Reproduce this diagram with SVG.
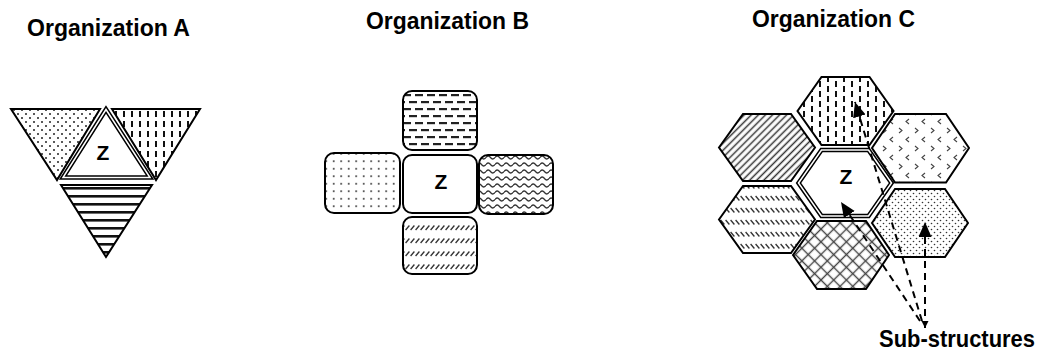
<svg xmlns="http://www.w3.org/2000/svg" width="1048" height="358" viewBox="0 0 1048 358">
<style>
.t{font-family:"Liberation Sans",Arial,sans-serif;font-weight:bold;font-size:24px;fill:#000}
.z{font-family:"Liberation Sans",Arial,sans-serif;font-weight:bold;font-size:21px;fill:#000;text-anchor:middle}
.s{stroke:#000;stroke-width:2;stroke-linejoin:miter}
.dbl{fill:#fff;stroke:#000;stroke-width:4.6;stroke-linejoin:miter}
.dblIn{fill:none;stroke:#fff;stroke-width:1.5;stroke-linejoin:miter}
.c{fill:none;stroke:#000;stroke-width:2;stroke-dasharray:7 5}
</style>
<defs>
<pattern id="pDots" width="8" height="8" patternUnits="userSpaceOnUse"><rect width="8" height="8" fill="#fff"/><circle cx="2" cy="2" r="1" fill="#222"/><circle cx="6" cy="6" r="1" fill="#222"/></pattern>
<pattern id="pVDash" width="8" height="10" patternUnits="userSpaceOnUse"><rect width="8" height="10" fill="#fff"/><rect x="3" y="1" width="2" height="6" fill="#111"/></pattern>
<pattern id="pVDash2" width="16" height="20" patternUnits="userSpaceOnUse"><rect width="16" height="20" fill="#fff"/><rect x="3" y="1" width="2" height="6" fill="#111"/><rect x="3" y="11" width="2" height="6" fill="#111"/><rect x="11" y="6" width="2" height="6" fill="#111"/><rect x="11" y="16" width="2" height="4" fill="#111"/><rect x="11" y="0" width="2" height="2" fill="#111"/></pattern>
<pattern id="pHStripe" width="8" height="8" patternUnits="userSpaceOnUse"><rect width="8" height="8" fill="#fff"/><rect y="3" width="8" height="2.6" fill="#111"/></pattern>
<pattern id="pHDash" width="12" height="14" patternUnits="userSpaceOnUse"><rect width="12" height="14" fill="#fff"/><rect x="1" y="3" width="8" height="2.2" fill="#222"/><rect x="7" y="10" width="8" height="2.2" fill="#222"/><rect x="-5" y="10" width="8" height="2.2" fill="#222"/></pattern>
<pattern id="pGrid" width="7.5" height="7.5" patternUnits="userSpaceOnUse"><rect width="7.5" height="7.5" fill="#fff"/><circle cx="3.7" cy="3.7" r="0.9" fill="#222"/></pattern>
<pattern id="pWave" width="9" height="7" patternUnits="userSpaceOnUse"><rect width="9" height="7" fill="#fff"/><path d="M0,3.5 Q2.25,0.5 4.5,3.5 T9,3.5" fill="none" stroke="#333" stroke-width="1.3"/></pattern>
<pattern id="pSlash" width="5" height="13" patternUnits="userSpaceOnUse"><rect width="5" height="13" fill="#fff"/><line x1="0.6" y1="9" x2="4.4" y2="4.5" stroke="#333" stroke-width="1.3"/></pattern>
<pattern id="pDiag" width="5" height="5" patternUnits="userSpaceOnUse" patternTransform="rotate(45)"><rect width="5" height="5" fill="#fff"/><line x1="2.5" y1="0" x2="2.5" y2="5" stroke="#333" stroke-width="1.5"/></pattern>
<pattern id="pBack" width="5" height="12" patternUnits="userSpaceOnUse"><rect width="5" height="12" fill="#fff"/><line x1="0.6" y1="4" x2="4.4" y2="8.5" stroke="#333" stroke-width="1.3"/></pattern>
<pattern id="pChev" width="16" height="18" patternUnits="userSpaceOnUse"><rect width="16" height="18" fill="#fff"/><path d="M3,2 L6,4.5 L3,7 M13,11 L10,13.5 L13,16" fill="none" stroke="#444" stroke-width="1.1"/></pattern>
<pattern id="pFine" width="6" height="6" patternUnits="userSpaceOnUse"><rect width="6" height="6" fill="#fff"/><circle cx="1.5" cy="1.5" r="0.8" fill="#333"/><circle cx="4.5" cy="4.5" r="0.8" fill="#333"/></pattern>
<pattern id="pCross" width="9" height="9" patternUnits="userSpaceOnUse" patternTransform="rotate(45)"><rect width="9" height="9" fill="#fff"/><line x1="4.5" y1="0" x2="4.5" y2="9" stroke="#444" stroke-width="1.4"/><line x1="0" y1="4.5" x2="9" y2="4.5" stroke="#444" stroke-width="1.4"/></pattern>
<marker id="ah" markerUnits="userSpaceOnUse" markerWidth="16" markerHeight="14" refX="15" refY="6.5" orient="auto"><path d="M0,0 L15,6.5 L0,13 z" fill="#000"/></marker>
<marker id="ahs" markerUnits="userSpaceOnUse" markerWidth="8" markerHeight="8" refX="7" refY="3.5" orient="auto-start-reverse"><path d="M0,0 L7,3.5 L0,7 z" fill="#000"/></marker>
</defs>

<text class="t" x="27" y="36" textLength="163" lengthAdjust="spacingAndGlyphs">Organization A</text>
<text class="t" x="366" y="29" textLength="163" lengthAdjust="spacingAndGlyphs">Organization B</text>
<text class="t" x="752" y="27" textLength="163" lengthAdjust="spacingAndGlyphs">Organization C</text>

<g id="orgA">
<g id="a-left"><polygon class="s" fill="url(#pDots)" points="11,109 100,109 57,180"/></g>
<g id="a-right"><polygon class="s" fill="url(#pVDash)" points="112,109 200,109 156,180"/></g>
<g id="a-bottom"><polygon class="s" fill="url(#pHStripe)" points="61,185 152,185 106,257"/></g>
<g id="a-z"><polygon class="dbl" points="106,109.5 63,177.5 150,177.5"/><polygon class="dblIn" points="106,109.5 63,177.5 150,177.5"/><text class="z" x="103" y="160">Z</text></g>
</g>

<g id="orgB">
<g id="b-top"><rect class="s" fill="url(#pHDash)" x="403" y="91" width="74" height="59" rx="9"/></g>
<g id="b-left"><rect class="s" fill="url(#pGrid)" x="325" y="153" width="75" height="60" rx="9"/></g>
<g id="b-z"><rect class="s" fill="#fff" stroke-width="2.4" x="403" y="155" width="74" height="58" rx="9"/><text class="z" x="441" y="189">Z</text></g>
<g id="b-right"><rect class="s" fill="url(#pWave)" x="479" y="155" width="74" height="59" rx="9"/></g>
<g id="b-bottom"><rect class="s" fill="url(#pSlash)" x="403" y="217" width="74" height="57" rx="9"/></g>
</g>

<g id="orgC">
<g id="c-top"><polygon class="s" fill="url(#pVDash2)" points="797.5,111 821.5,77 869.5,77 893.5,111 869.5,145 821.5,145"/></g>
<g id="c-upleft"><polygon class="s" fill="url(#pDiag)" points="719,147.5 743,114 791,114 815,147.5 791,181 743,181"/></g>
<g id="c-lowleft"><polygon class="s" fill="url(#pBack)" points="719,219.5 743,186 791,186 815,219.5 791,253 743,253"/></g>
<g id="c-bottom"><polygon class="s" fill="url(#pCross)" points="793,255 817,221 866,221 889,255 866,289 817,289"/></g>
<g id="c-upright"><polygon class="s" fill="url(#pChev)" points="872,148 895,114 946,114 969,148 946,182.5 895,182.5"/></g>
<g id="c-lowright"><polygon class="s" fill="url(#pFine)" points="872,223 895,189 945,189 968,223 945,257 895,257"/></g>
<g id="c-z"><polygon class="dbl" points="798.5,183 821.5,150 868.5,150 891.5,183 868.5,216 821.5,216"/><polygon class="dblIn" points="798.5,183 821.5,150 868.5,150 891.5,183 868.5,216 821.5,216"/><text class="z" x="846" y="184">Z</text></g>
</g>

<g id="connectors">
<line class="c" x1="925" y1="328" x2="925" y2="222" marker-start="url(#ahs)" marker-end="url(#ah)"/>
<line class="c" x1="922" y1="321" x2="855" y2="102" marker-end="url(#ah)"/>
<line class="c" x1="920" y1="321" x2="841" y2="202" marker-end="url(#ah)"/>
</g>

<text class="t" x="879" y="347" textLength="156" lengthAdjust="spacingAndGlyphs">Sub-structures</text>
</svg>
